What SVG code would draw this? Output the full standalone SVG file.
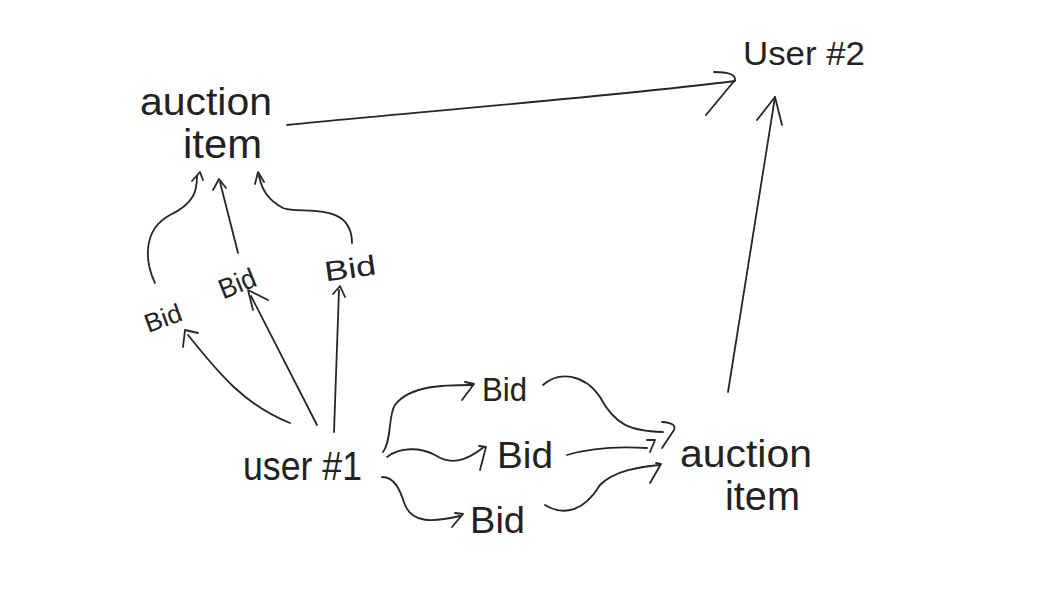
<svg xmlns="http://www.w3.org/2000/svg" width="1043" height="592" viewBox="0 0 1043 592">
<style>
.bg{fill:#ffffff}
.lbl{font-family:"Liberation Sans",Arial,sans-serif;fill:#222222;}
.ln{fill:none;stroke:#262626;stroke-width:1.8;stroke-linecap:round;stroke-linejoin:round}
</style>
<rect class="bg" x="0" y="0" width="1043" height="592"/>
<g id="connectors">
  <path class="ln" d="M287,125 C400,113 600,98 735,81"/>
  <path class="ln" d="M714,72 Q736,72 735,80 L706,115"/>
  <path class="ln" d="M728,392 L775,97"/>
  <path class="ln" d="M757,120 L775,97 L782,125"/>
  <path class="ln" d="M155,283 C145,262 142,230 170,215 C195,203 197,190 197,176"/>
  <path class="ln" d="M192,181 L200,172 L203,180"/>
  <path class="ln" d="M238,253 L220,182"/>
  <path class="ln" d="M213,190 L219,179 L226,188"/>
  <path class="ln" d="M352,243 C352,200 300,215 283,208 C268,200 262,190 259,176"/>
  <path class="ln" d="M255,184 L258,172 L264,182"/>
  <path class="ln" d="M290,423 C245,405 220,375 188,335"/>
  <path class="ln" d="M183,347 L185,330 L198,333"/>
  <path class="ln" d="M317,425 L251,296"/>
  <path class="ln" d="M253,310 L248,290 L268,300"/>
  <path class="ln" d="M334,432 L339,290"/>
  <path class="ln" d="M333,294 L340,286 L345,297"/>
  <path class="ln" d="M383,452 C392,440 388,415 395,405 C410,385 445,385 472,385"/>
  <path class="ln" d="M465,382 L474,384 L462,400"/>
  <path class="ln" d="M387,457 C400,447 420,447 435,455 C450,465 465,462 484,447"/>
  <path class="ln" d="M479,446 L486,447 L480,470"/>
  <path class="ln" d="M382,477 C395,477 400,490 405,505 C412,522 430,523 460,516"/>
  <path class="ln" d="M455,513 L463,514 L452,527"/>
  <path class="ln" d="M543,385 C560,370 585,375 600,397 C615,425 630,431 663,432"/>
  <path class="ln" d="M662,422 Q677,423 674,430 L662,448"/>
  <path class="ln" d="M567,455 C590,448 615,446 647,448"/>
  <path class="ln" d="M647,440 L655,440 L650,452"/>
  <path class="ln" d="M545,505 C565,517 585,510 600,485 C615,470 640,467 660,465"/>
  <path class="ln" d="M656,463 L661,464 L650,483"/>
</g>
<g id="auction-item-top">
  <text class="lbl" x="140" y="115" font-size="38" textLength="132" lengthAdjust="spacingAndGlyphs">auction</text>
  <text class="lbl" x="183" y="158" font-size="40" textLength="79" lengthAdjust="spacingAndGlyphs">item</text>
</g>
<g id="user2">
  <text class="lbl" x="743" y="65" font-size="34" textLength="122" lengthAdjust="spacingAndGlyphs">User #2</text>
</g>
<g id="user1">
  <text class="lbl" x="243" y="480" font-size="40" textLength="119" lengthAdjust="spacingAndGlyphs">user #1</text>
</g>
<g id="auction-item-bottom">
  <text class="lbl" x="680" y="467" font-size="38" textLength="132" lengthAdjust="spacingAndGlyphs">auction</text>
  <text class="lbl" x="725" y="510" font-size="40" textLength="75" lengthAdjust="spacingAndGlyphs">item</text>
</g>
<g id="bid-left-1">
  <text class="lbl" transform="translate(163,318) rotate(-20)" x="0" y="9" text-anchor="middle" font-size="26" textLength="38" lengthAdjust="spacingAndGlyphs">Bid</text>
</g>
<g id="bid-left-2">
  <text class="lbl" transform="translate(237,283) rotate(-22)" x="0" y="10" text-anchor="middle" font-size="28" textLength="38" lengthAdjust="spacingAndGlyphs">Bid</text>
</g>
<g id="bid-left-3">
  <text class="lbl" transform="translate(350,268) rotate(-8)" x="0" y="10" text-anchor="middle" font-size="28" textLength="52" lengthAdjust="spacingAndGlyphs">Bid</text>
</g>
<g id="bid-right-1">
  <text class="lbl" x="482" y="401" font-size="34" textLength="45" lengthAdjust="spacingAndGlyphs">Bid</text>
</g>
<g id="bid-right-2">
  <text class="lbl" x="497" y="468" font-size="36" textLength="56" lengthAdjust="spacingAndGlyphs">Bid</text>
</g>
<g id="bid-right-3">
  <text class="lbl" x="470" y="533" font-size="36" textLength="55" lengthAdjust="spacingAndGlyphs">Bid</text>
</g>
</svg>
